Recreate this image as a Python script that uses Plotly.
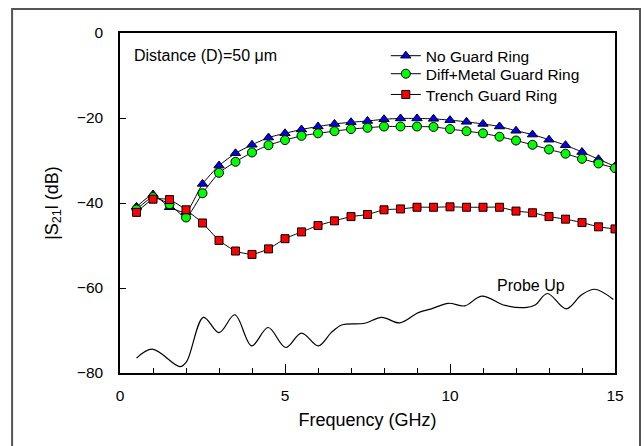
import plotly.graph_objects as go

freq = [0.5, 1.0, 1.5, 2.0, 2.5, 3.0, 3.5, 4.0, 4.5, 5.0, 5.5, 6.0, 6.5, 7.0, 7.5,
        8.0, 8.5, 9.0, 9.5, 10.0, 10.5, 11.0, 11.5, 12.0, 12.5, 13.0, 13.5, 14.0, 14.5, 15.0]
no_guard = [-40.9, -38.0, -41.0, -42.2, -35.5, -31.2, -28.3, -26.3, -24.6, -23.6, -22.7, -22.0,
            -21.4, -21.0, -20.7, -20.3, -20.1, -20.1, -20.2, -20.5, -20.9, -21.4, -22.0, -23.0,
            -23.9, -25.1, -26.4, -28.0, -29.7, -31.4]
diff_metal = [-41.5, -38.6, -40.3, -43.4, -37.7, -32.9, -30.3, -28.1, -26.4, -25.2, -24.2, -23.6,
              -23.1, -22.6, -22.3, -22.0, -22.0, -22.0, -22.1, -22.6, -23.1, -23.6, -24.4, -25.3,
              -26.3, -27.4, -28.4, -29.6, -30.7, -31.8]
trench = [-42.2, -39.1, -39.2, -41.6, -44.7, -48.8, -51.3, -52.1, -50.8, -48.4, -46.8, -45.3,
          -44.2, -43.2, -42.7, -41.6, -41.4, -41.0, -41.0, -40.9, -41.0, -41.0, -41.0, -41.9,
          -42.3, -43.2, -43.8, -44.6, -45.6, -46.1]

probe_x = [0.5, 0.98, 1.82, 2.02, 2.53, 3.0, 3.48, 3.99, 4.49, 5.02, 5.5, 6.01, 6.4, 6.72, 7.42,
           7.93, 8.48, 9.04, 9.44, 9.95, 10.45, 10.96, 11.67, 12.27, 12.58, 12.95, 13.52, 13.99,
           14.39, 14.95]
probe_y = [-76.5, -74.4, -78.5, -77.3, -66.9, -70.5, -66.3, -73.6, -69.3, -74.0, -70.6, -73.6,
           -70.5, -68.7, -68.3, -66.9, -68.2, -65.8, -64.9, -63.6, -64.2, -61.9, -64.1, -64.6,
           -64.0, -61.3, -64.9, -61.6, -60.3, -62.7]

FONT = "Arial, Liberation Sans, sans-serif"

fig = go.Figure()
fig.add_trace(go.Scatter(
    x=freq, y=no_guard, name="No Guard Ring", mode="lines+markers", legend="legend",
    line=dict(color="black", width=1, shape="spline", smoothing=0.5),
    marker=dict(symbol="triangle-up", size=9, color="#0000FF", line=dict(color="black", width=1))))
fig.add_trace(go.Scatter(
    x=freq, y=diff_metal, name="Diff+Metal Guard Ring", mode="lines+markers", legend="legend2",
    line=dict(color="black", width=1, shape="spline", smoothing=0.5),
    marker=dict(symbol="circle", size=9, color="#00FF00", line=dict(color="black", width=1))))
fig.add_trace(go.Scatter(
    x=freq, y=trench, name="Trench Guard Ring", mode="lines+markers", legend="legend3",
    line=dict(color="black", width=1, shape="spline", smoothing=0.5),
    marker=dict(symbol="square", size=8, color="#FF0000", line=dict(color="black", width=1))))
fig.add_trace(go.Scatter(
    x=probe_x, y=probe_y, name="Probe Up", mode="lines", showlegend=False,
    line=dict(color="black", width=1.2, shape="spline", smoothing=1.0)))

leg_common = dict(xanchor="left", yanchor="top", bgcolor="rgba(0,0,0,0)",
                  font=dict(size=15.5, family=FONT))

fig.update_layout(
    width=644, height=446,
    margin=dict(l=120, r=29, t=33, b=73),
    paper_bgcolor="white", plot_bgcolor="white",
    font=dict(family=FONT, color="black", size=15),
    showlegend=True,
    legend=dict(x=0.537, y=0.982, **leg_common),
    legend2=dict(x=0.537, y=0.929, **leg_common),
    legend3=dict(x=0.537, y=0.868, **leg_common),
    xaxis=dict(range=[0, 15], dtick=5, tick0=0, ticks="inside", ticklen=9, tickwidth=1,
               tickcolor="black", showline=True, linecolor="black", linewidth=1.5,
               mirror=True, showgrid=False, zeroline=False,
               tickfont=dict(size=15.5), ticklabelstandoff=8,
               minor=dict(dtick=1, ticks="inside", ticklen=5, tickcolor="black", showgrid=False),
               title=dict(text="Frequency (GHz)", font=dict(size=18), standoff=10)),
    yaxis=dict(range=[-80, 0], dtick=20, ticks="inside", ticklen=6, tickwidth=1,
               tickcolor="black", showline=True, linecolor="black", linewidth=1.5,
               mirror=True, showgrid=False, zeroline=False,
               tickfont=dict(size=15.5), ticklabelstandoff=12,
               title=dict(text="|S<sub>21</sub>l (dB)", font=dict(size=18), standoff=14)),
    shapes=[dict(type="rect", xref="paper", yref="paper",
                 x0=-0.218, x1=1.0505, y0=-0.26, y1=1.0706,
                 line=dict(color="#555555", width=2), layer="below")],
    annotations=[
        dict(text="Distance (D)=50 μm", x=0.36, y=-5.2, xref="x", yref="y",
             xanchor="left", yanchor="middle", showarrow=False, font=dict(size=16)),
        dict(text="Probe Up", x=12.44, y=-59.3, xref="x", yref="y",
             xanchor="center", yanchor="middle", showarrow=False, font=dict(size=16)),
    ],
)

fig.write_html("out.html")
